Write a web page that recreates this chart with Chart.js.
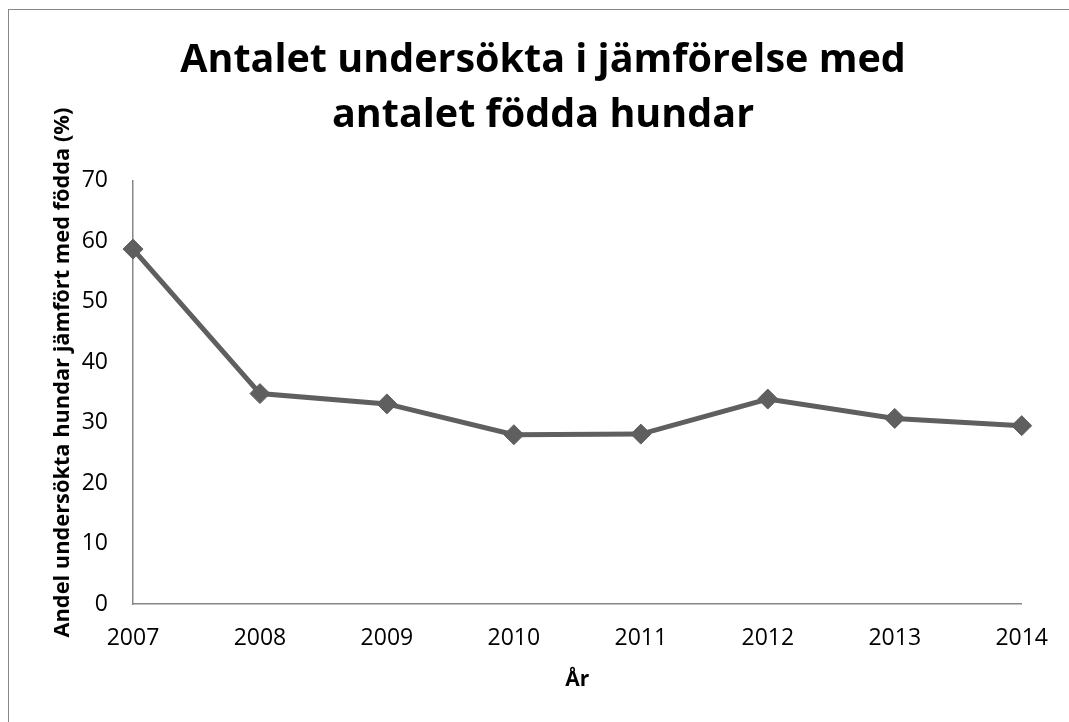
<!DOCTYPE html>
<html lang="sv">
<head>
<meta charset="UTF-8">
<title>Antalet undersökta i jämförelse med antalet födda hundar</title>
<script src="https://cdn.jsdelivr.net/npm/chart.js"></script>
<style>
	body {padding: 0; margin: 0; background: #fff; overflow: hidden;}
	#wrap {position: relative; width: 1069px; height: 722px;}
	#frame {position: absolute; left: 8px; top: 9px; width: 2000px; height: 2000px;
		border-left: 1px solid #878787; border-top: 1px solid #878787; pointer-events: none;}
</style>
</head>
<body>

<div id="wrap">
	<canvas id="myChart" width="1069" height="722"></canvas>
	<div id="frame"></div>
</div>

<script>
// data
var years = ['2007', '2008', '2009', '2010', '2011', '2012', '2013', '2014'];
var andel = [58.7, 34.8, 33.1, 28.0, 28.1, 33.9, 30.7, 29.5];
var yMin = 0, yMax = 70, yStep = 10;

var titleText = ['Antalet undersökta i jämförelse med', 'antalet födda hundar'];
var xTitle = 'År';
// leading spaces nudge the rotated title a little upward, as in the original
var yTitle = '       Andel undersökta hundar jämfört med födda (%)';

var fontName = '"Open Sans"';
var axisColor = '#878787';
var lineColor = '#5f5f5f';

var ctx = document.getElementById('myChart').getContext('2d');
var myChart = new Chart(ctx, {
	type: 'line',
	data: {
		labels: years,
		datasets: [{
			data: andel,
			borderColor: lineColor,
			backgroundColor: lineColor,
			borderWidth: 5,
			pointStyle: 'rectRot',
			pointRadius: 10,
			pointHoverRadius: 10,
			pointBorderWidth: 1,
			tension: 0
		}]
	},
	options: {
		responsive: false,
		animation: false,
		layout: { padding: { left: 17, right: 0, top: 0, bottom: 0 } },
		plugins: {
			legend: { display: false },
			tooltip: { enabled: false },
			title: {
				display: true,
				text: titleText,
				color: '#000',
				font: { family: fontName, size: 39.5, weight: 'bold', lineHeight: 1.39 },
				padding: { top: 33.5, bottom: 37.5 }
			}
		},
		scales: {
			x: {
				type: 'category',
				offset: false,
				grid: { display: false, drawTicks: false },
				border: { display: true, color: axisColor, width: 1.5 },
				ticks: { color: '#000', font: { family: fontName, size: 23 }, padding: 21, maxRotation: 0 },
				title: {
					display: true, text: xTitle, color: '#000',
					font: { family: fontName, size: 21, weight: 'bold' },
					padding: { top: 0, bottom: 29 }
				},
				afterFit: function(s) { s.height = 118; }
			},
			y: {
				min: yMin,
				max: yMax,
				grid: { display: false, drawTicks: false },
				border: { display: true, color: axisColor, width: 1.5 },
				ticks: { stepSize: yStep, color: '#000', font: { family: fontName, size: 23 }, padding: 25 },
				title: {
					display: true, text: yTitle, color: '#000',
					font: { family: fontName, size: 21.8, weight: 'bold' },
					padding: { top: 33, bottom: 0 }
				},
				afterFit: function(s) { s.width = 116; }
			},
			// empty right axis, only keeps the plot clear of the right edge
			yRight: {
				position: 'right',
				display: true,
				grid: { display: false, drawTicks: false },
				border: { display: false },
				ticks: { display: false },
				afterFit: function(s) { s.width = 45; }
			}
		}
	}
});
</script>

</body>
</html>
